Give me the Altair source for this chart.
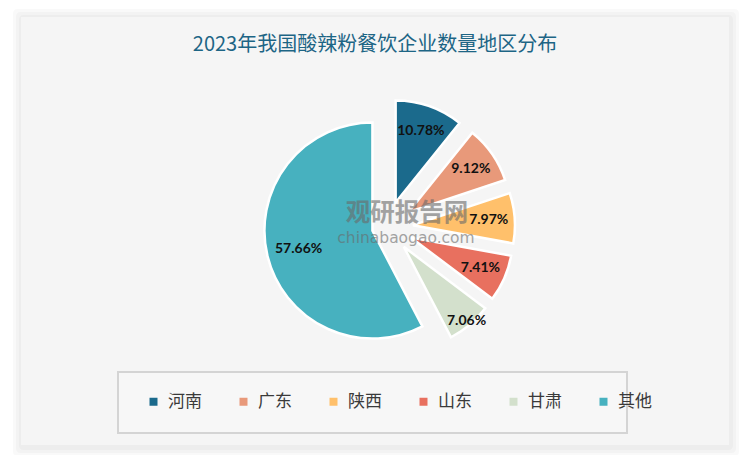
import altair as alt
import pandas as pd

# ---- data ----
regions = ["河南", "广东", "陕西", "山东", "甘肃", "其他"]
shares = [10.78, 9.12, 7.97, 7.41, 7.06, 57.66]
colors = ["#1b6a8c", "#e8997a", "#ffc06b", "#e8705f", "#d3e0cc", "#47b1bf"]
title_text = "2023年我国酸辣粉餐饮企业数量地区分布"

df = pd.DataFrame({"region": regions, "share": shares, "order": list(range(len(regions)))})
one = pd.DataFrame({"a": [0]})

W, H = 734, 447
CX, CY = 379, 219          # pie centre (plot coords)
R_SMALL, R_BIG = 102, 108  # slice radii
EX_SMALL, EX_BIG = 26, 15  # explosion distances
LR, LR_FAR = 76, 97        # label distance from slice apex

base = (
    alt.Chart(df)
    .transform_window(cum="sum(share)", sort=[alt.SortField("order")], frame=[None, 0])
    .transform_joinaggregate(total="sum(share)")
    .transform_calculate(
        a1="2*PI*datum.cum/datum.total",
        a0="2*PI*(datum.cum-datum.share)/datum.total",
        mid="(datum.a0+datum.a1)/2",
        ex=f"datum.share > 50 ? {EX_BIG} : {EX_SMALL}",
        rad=f"datum.share > 50 ? {R_BIG} : {R_SMALL}",
        cx=f"{CX} + datum.ex*sin(datum.mid)",
        cy=f"{CY} - datum.ex*cos(datum.mid)",
        lr=f"datum.region == '甘肃' ? {LR_FAR} : {LR}",
        lx="datum.cx + datum.lr*sin(datum.mid)",
        ly="datum.cy - datum.lr*cos(datum.mid)",
        label="format(datum.share, '.2f') + '%'",
    )
)

# background panel with soft shadow
shadow = alt.layer(*[
    alt.Chart(one).mark_rect(fill="#000000", opacity=0.025, cornerRadius=4).encode(
        x=alt.value(13 - k), x2=alt.value(721 + k + 2), y=alt.value(9 - k), y2=alt.value(437 + k + 3)
    ) for k in (2, 5, 8)
])
panel = alt.Chart(one).mark_rect(fill="#f5f5f5").encode(
    x=alt.value(13), x2=alt.value(721), y=alt.value(9), y2=alt.value(437)
)
legend_box = alt.Chart(one).mark_rect(fill="#f7f7f7", stroke="#d4d4d4", strokeWidth=2).encode(
    x=alt.value(110), x2=alt.value(619), y=alt.value(364), y2=alt.value(425)
)
title = alt.Chart(one).mark_text(
    text=title_text, font="Noto Sans CJK SC", fontSize=20, color="#1d6585", align="center", baseline="middle"
).encode(x=alt.value(367), y=alt.value(37))

arcs = base.mark_arc(stroke="white", strokeWidth=2.5).encode(
    theta=alt.Theta("a0:Q", scale=None, stack=None),
    theta2="a1:Q",
    x=alt.X("cx:Q", scale=None, axis=None),
    y=alt.Y("cy:Q", scale=None, axis=None),
    radius=alt.Radius("rad:Q", scale=None),
    color=alt.Color(
        "region:N",
        scale=alt.Scale(domain=regions, range=colors),
        sort=regions,
        legend=alt.Legend(
            title=None, orient="none", direction="horizontal", columns=6,
            legendX=137, legendY=385, symbolType="square", symbolSize=64,
            symbolStrokeWidth=0, labelFont="Noto Sans CJK SC", labelFontSize=17,
            labelColor="#3a3a3a", labelOffset=6, columnPadding=33, padding=0,
        ),
    ),
)

wm1 = alt.Chart(one).mark_text(
    text="观研报告网", font="Noto Sans CJK SC", fontWeight="bold", fontSize=24.5,
    color="#6a6a6a", opacity=0.6, align="center", baseline="middle"
).encode(x=alt.value(399), y=alt.value(206))
wm2 = alt.Chart(one).mark_text(
    text="chinabaogao.com", font="DejaVu Sans", fontSize=15.5,
    color="#6a6a6a", opacity=0.6, align="center", baseline="middle"
).encode(x=alt.value(398), y=alt.value(230))

labels = base.mark_text(font="Lato", fontWeight="bold", fontSize=14, color="#111111").encode(
    x=alt.X("lx:Q", scale=None, axis=None),
    y=alt.Y("ly:Q", scale=None, axis=None),
    text="label:N",
)

chart = (
    alt.layer(shadow, panel, legend_box, title, arcs, wm1, wm2, labels)
    .properties(width=W, height=H, autosize="none", padding=0, background="white")
    .configure_view(stroke=None)
)

chart.save("out.html", embed_options={"renderer": "svg", "actions": False})
